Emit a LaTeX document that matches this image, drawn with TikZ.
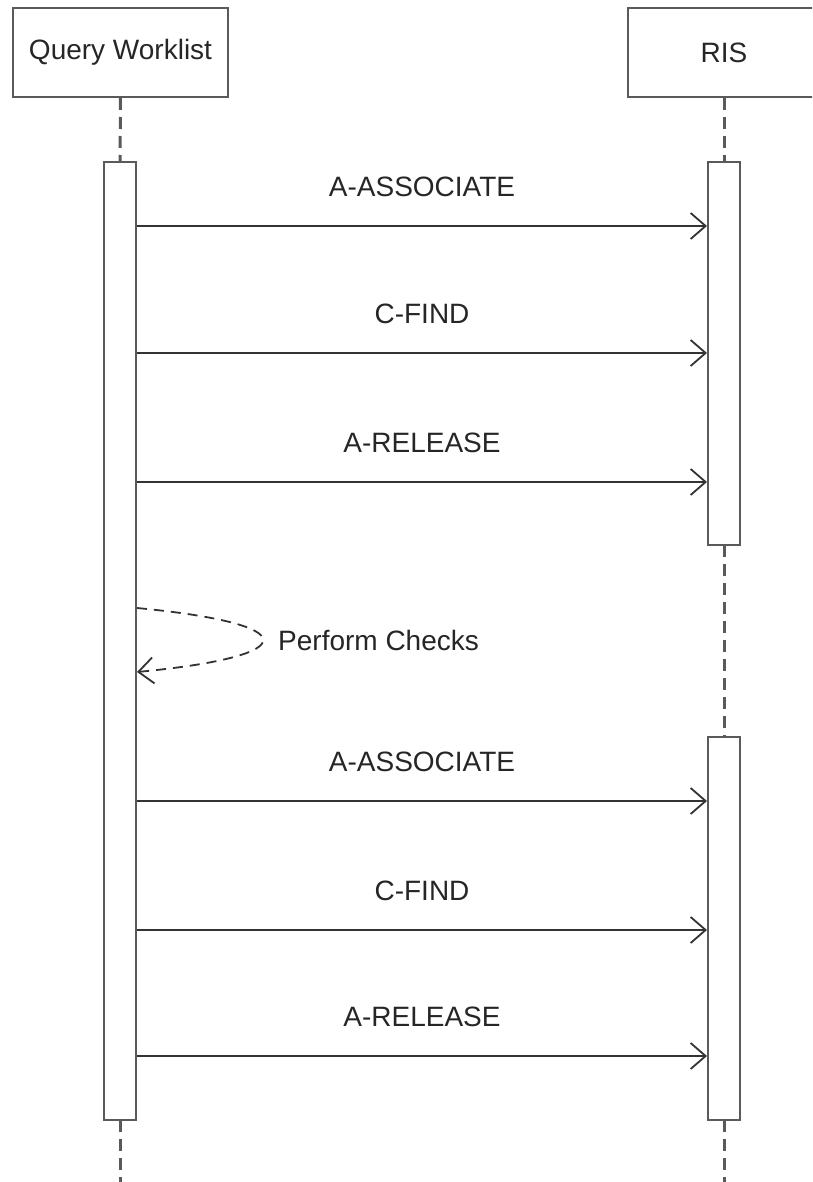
\documentclass[tikz,border=0pt]{standalone}
\usepackage{fontspec}
\setmainfont{Liberation Sans}
\usetikzlibrary{arrows.meta}
\definecolor{boxgray}{HTML}{5A5A5A}
\definecolor{linegray}{HTML}{333333}
\tikzset{
  lifebox/.style={draw=boxgray, line width=2pt, fill=white, minimum height=89pt, inner sep=0pt, font=\fontsize{28}{34}\selectfont, text=black!85},
  actbox/.style={draw=boxgray, line width=2pt, fill=white, minimum width=32pt, inner sep=0pt},
  lifeline/.style={draw=boxgray, line width=3pt, dash pattern=on 12pt off 7pt},
  msg/.style={draw=linegray, line width=1.8pt, -{Straight Barb[length=15pt, width=26pt, line width=1.8pt]}},
  msglabel/.style={font=\fontsize{28}{34}\selectfont, text=black!85, inner sep=0pt, text depth=0pt, anchor=south},
  selfmsg/.style={draw=linegray, line width=1.8pt, dash pattern=on 10pt off 7pt, -{Straight Barb[length=15pt, width=26pt, line width=1.8pt]}}
}
\begin{document}
\begin{tikzpicture}[x=1pt,y=-1pt]
\clip (0,0) rectangle (812,1182);
\fill[white] (0,0) rectangle (812,1182);
% lifeline heads
\node[lifebox, minimum width=215pt] (qw) at (120.5,52.5) {Query Worklist};
\node[lifebox, minimum width=192pt] (ris) at (724,52.5) {RIS};
\coordinate (qwend) at (120,1182);
\coordinate (risend) at (724,1182);
% lifelines
\path[lifeline] (qw.south) -- (120,162);
\path[lifeline] (ris.south) -- (724,162);
\path[lifeline] (724,545) -- (724,737);
\path[lifeline] (120,1120) -- (qwend);
\path[lifeline] (724,1120) -- (risend);
% activations
\node[actbox, minimum height=958pt] (a1) at (120,641) {};
\node[actbox, minimum height=383pt] (r1) at (724,353.5) {};
\node[actbox, minimum height=383pt] (r2) at (724,928.5) {};
% messages
\path[msg] (a1.east |- 0,226) -- node[msglabel, above=29pt] {A-ASSOCIATE} (r1.west |- 0,226);
\path[msg] (a1.east |- 0,353) -- node[msglabel, above=29pt] {C-FIND} (r1.west |- 0,353);
\path[msg] (a1.east |- 0,482) -- node[msglabel, above=29pt] {A-RELEASE} (r1.west |- 0,482);
% self message
\path[selfmsg] (a1.east |- 0,608) .. controls (305,624) and (305,656) .. (a1.east |- 0,672);
\node[font=\fontsize{28}{34}\selectfont, text=black!85, inner sep=0pt, anchor=west] (pc) at (278,640) {Perform Checks};
\path[msg] (a1.east |- 0,801) -- node[msglabel, above=29pt] {A-ASSOCIATE} (r2.west |- 0,801);
\path[msg] (a1.east |- 0,930) -- node[msglabel, above=29pt] {C-FIND} (r2.west |- 0,930);
\path[msg] (a1.east |- 0,1056) -- node[msglabel, above=29pt] {A-RELEASE} (r2.west |- 0,1056);
\end{tikzpicture}
\end{document}
